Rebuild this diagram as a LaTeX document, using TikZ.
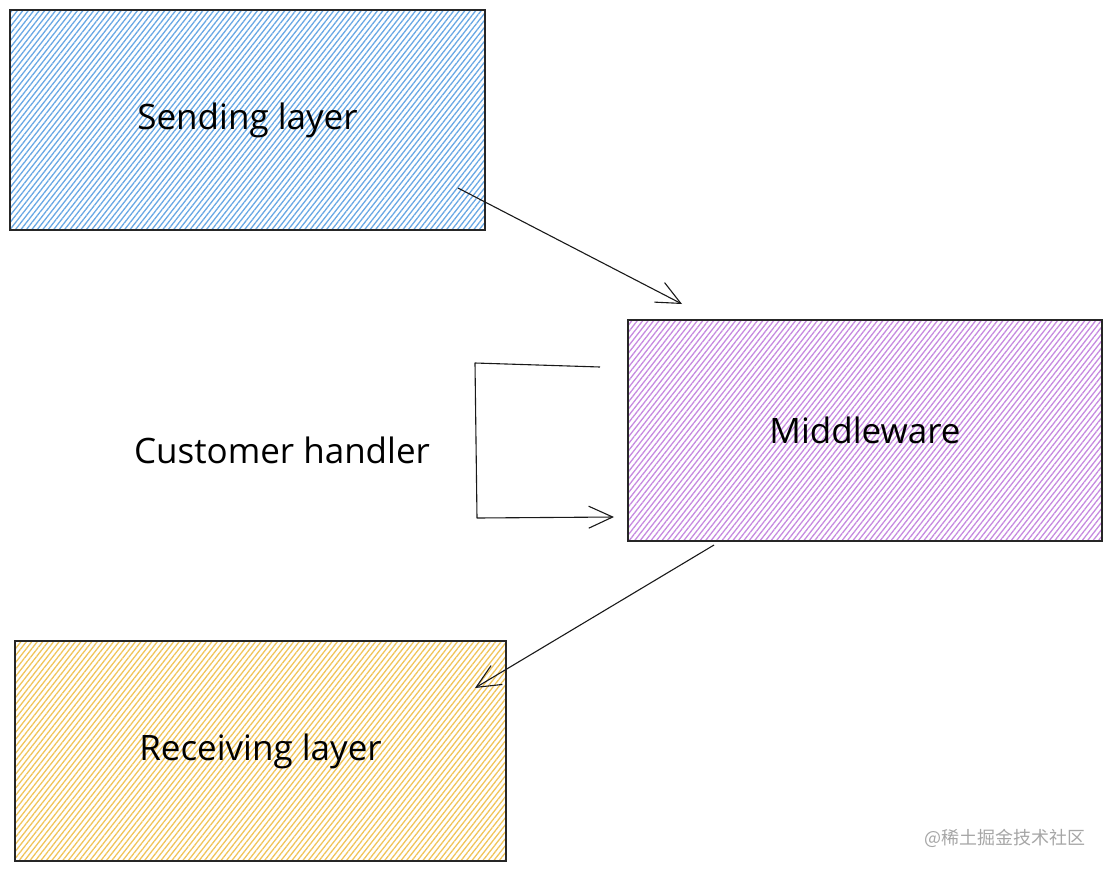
\documentclass[tikz,border=0pt]{standalone}
\usepackage{fontspec}
\setmainfont{Open Sans}
\newfontfamily\cjk{Noto Sans CJK SC}
\usepackage{tikz}
\usetikzlibrary{positioning,arrows.meta,patterns.meta}

\definecolor{sendblue}{RGB}{105,168,228}
\definecolor{midpurple}{RGB}{198,138,224}
\definecolor{recvyellow}{RGB}{240,196,90}

\begin{document}
\begin{tikzpicture}[x=1pt,y=-1pt,font=\fontsize{35}{40}\selectfont]
            \tikzstyle{layer}=[rectangle,draw=black!85,line width=1.4pt,minimum width=475pt,minimum height=220pt,inner sep=0]
            \tikzstyle{hatch}=[pattern={Lines[angle=52,distance=4.3pt,line width=1.3pt]}]
            \tikzstyle{link}=[draw=black!90,line width=1.1pt,-{Straight Barb[length=24pt,width=22pt,line width=1.1pt]}]
            \useasboundingbox (0,0) rectangle (1112,871);
            \node(send)[layer,hatch,pattern color=sendblue] at (247.5,120) {Sending layer};
            \node(mid)[layer,hatch,pattern color=midpurple,minimum width=474pt,minimum height=221pt] at (865,430.5) {Middleware};
            \node(recv)[layer,hatch,pattern color=recvyellow,minimum width=491pt] at (260.5,751) {Receiving layer};
            \node(handler) at (282,450) {Customer handler};
            \node(mark)[anchor=east,text=black!35,font=\cjk\fontsize{18}{20}\selectfont] at (1089,838) {@稀土掘金技术社区};
            % free ends of the connectors
            \coordinate (s0) at (458,188);
            \coordinate (m0) at (682,304);
            \coordinate (h0) at (600,367);
            \coordinate (h1) at (475,363);
            \coordinate (h2) at (477,518);
            \coordinate (h3) at (614,517);
            \coordinate (m1) at (714,545);
            \coordinate (r0) at (475,688);
            \draw[link] (s0) -- (m0);
            \draw[link,line join=round] (h0) -- (h1) -- (h2) -- (h3);
            \draw[link] (m1) -- (r0);
          \end{tikzpicture}
\end{document}
